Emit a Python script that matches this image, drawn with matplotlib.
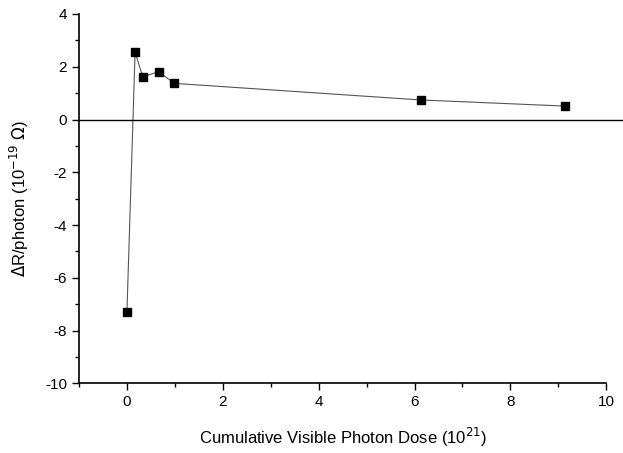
import numpy as np
import matplotlib.pyplot as plt
from matplotlib.ticker import MultipleLocator
import matplotlib.transforms as mtransforms

plt.rcParams['font.family'] = ['Liberation Sans', 'DejaVu Sans']
plt.rcParams['axes.unicode_minus'] = False

# data
dose = [0.0, 0.17, 0.33, 0.66, 0.99, 6.14, 9.13]
dr_photon = [-7.29, 2.55, 1.62, 1.81, 1.37, 0.74, 0.51]

fig = plt.figure(figsize=(6.23, 4.53), dpi=100)
ax = fig.add_axes([0.1268, 0.1539, 0.8464, 0.8152])

ax.plot(dose, dr_photon, color='#555555', linewidth=0.8, marker='s',
        markersize=6, markerfacecolor='black', markeredgecolor='black')

# zero line runs past the end of the x axis
trans = mtransforms.blended_transform_factory(ax.transAxes, ax.transData)
ax.plot([0, 1.035], [0, 0], color='black', linewidth=1.0, transform=trans, clip_on=False)

ax.set_xlim(-1, 10)
ax.set_ylim(-10, 4)
ax.xaxis.set_major_locator(MultipleLocator(2))
ax.xaxis.set_minor_locator(MultipleLocator(1))
ax.yaxis.set_major_locator(MultipleLocator(2))
ax.yaxis.set_minor_locator(MultipleLocator(1))

for side in ['top', 'right']:
    ax.spines[side].set_visible(False)
for side in ['left', 'bottom']:
    ax.spines[side].set_linewidth(1.2)

ax.tick_params(axis='both', which='major', direction='out', length=5, width=1, labelsize=11)
ax.tick_params(axis='both', which='minor', direction='out', length=3, width=1)

ax.set_xlabel('Cumulative Visible Photon Dose (10$^{21}$)', fontsize=12, labelpad=12)
ax.set_ylabel('$\\Delta$R/photon (10$^{-19}$ $\\Omega$)', fontsize=12, labelpad=10)

fig.savefig('out.png', dpi=100)
